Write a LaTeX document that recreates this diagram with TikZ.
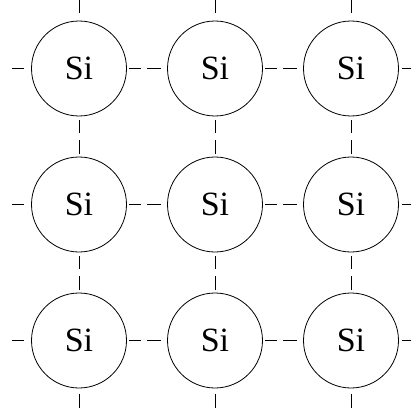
\documentclass[tikz,border=0pt]{standalone}
\usepackage{fontspec}
\setmainfont{Liberation Serif}
\begin{document}
\begin{tikzpicture}[x=1pt,y=-1pt,
  atom/.style={draw, circle, line width=0.8pt, minimum size=95pt, inner sep=0pt,
               outer sep=0pt, fill=white, font=\fontsize{34}{40}\selectfont},
  bondline/.style={line width=0.8pt},
  hbond/.style={bondline, dash pattern=on 11.5pt off 6.5pt on 14pt off 9pt, dash phase=38.5pt},
  vbond/.style={bondline, dash pattern=on 13pt off 7pt on 14pt off 7pt, dash phase=37pt},
  lstub/.style={bondline, dash pattern=on 12.5pt off 10pt},
  rstub/.style={bondline, dash pattern=on 30pt off 3pt, dash phase=30pt},
  tstub/.style={bondline, dash pattern=on 14pt off 10pt},
  bstub/.style={bondline, dash pattern=on 14pt off 6pt, dash phase=14pt}]
\useasboundingbox (0,0) rectangle (411,412);

% silicon atoms of the lattice
\foreach \r/\y in {0/68.5,1/204.5,2/340.5}{
  \foreach \c/\x in {0/79,1/215,2/351}{
    \node[atom] (c\r\c) at (\x,\y) {Si};
  }
}

% free ends of the outer bonds
\foreach \r/\y in {0/68.5,1/204.5,2/340.5}{
  \coordinate (L\r) at (11.5,\y);
  \coordinate (R\r) at (430,\y);
}
\foreach \c/\x in {0/79,1/215,2/351}{
  \coordinate (T\c) at (\x,-1);
  \coordinate (B\c) at (\x,408);
}

% horizontal bonds
\foreach \r in {0,1,2}{
  \draw[hbond] (c\r0) -- (c\r1);
  \draw[hbond] (c\r1) -- (c\r2);
  \draw[lstub] (L\r) -- (c\r0);
  \draw[rstub] (c\r2) -- (R\r);
}

% vertical bonds
\foreach \c in {0,1,2}{
  \draw[vbond] (c0\c) -- (c1\c);
  \draw[vbond] (c1\c) -- (c2\c);
  \draw[tstub] (T\c) -- (c0\c);
  \draw[bstub] (c2\c) -- (B\c);
}
\end{tikzpicture}
\end{document}
